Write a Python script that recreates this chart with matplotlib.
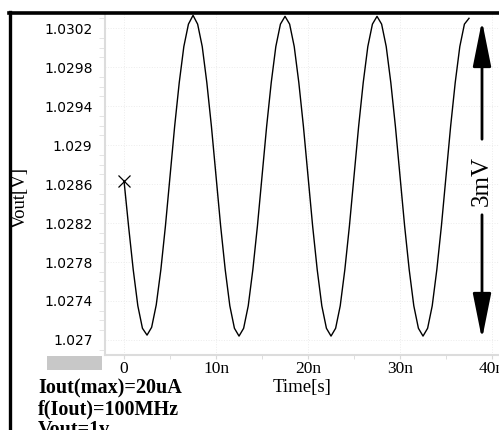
import matplotlib
matplotlib.use("Agg")
import matplotlib.pyplot as plt
from matplotlib.lines import Line2D
from matplotlib.patches import Rectangle
from matplotlib.ticker import FixedLocator, MultipleLocator

# transient output, time in ns
time_ns = [0.0, 0.5, 1.0, 1.5, 2.0, 2.5, 3.0, 3.5, 4.0, 4.5,
           5.0, 5.5, 6.0, 6.5, 7.0, 7.5, 8.0, 8.5, 9.0, 9.5,
           10.0, 10.5, 11.0, 11.5, 12.0, 12.5, 13.0, 13.5, 14.0, 14.5,
           15.0, 15.5, 16.0, 16.5, 17.0, 17.5, 18.0, 18.5, 19.0, 19.5,
           20.0, 20.5, 21.0, 21.5, 22.0, 22.5, 23.0, 23.5, 24.0, 24.5,
           25.0, 25.5, 26.0, 26.5, 27.0, 27.5, 28.0, 28.5, 29.0, 29.5,
           30.0, 30.5, 31.0, 31.5, 32.0, 32.5, 33.0, 33.5, 34.0, 34.5,
           35.0, 35.5, 36.0, 36.5, 37.0, 37.5]
vout = [1.02863, 1.02816, 1.02772, 1.02735, 1.02712, 1.02705, 1.02713, 1.02736, 1.02772, 1.02817,
        1.02868, 1.02919, 1.02964, 1.03001, 1.03024, 1.03033, 1.03024, 1.03001, 1.02964, 1.02919,
        1.02868, 1.02817, 1.02772, 1.02735, 1.02712, 1.02704, 1.02712, 1.02735, 1.02772, 1.02817,
        1.02868, 1.02919, 1.02964, 1.03001, 1.03024, 1.03032, 1.03024, 1.03001, 1.02964, 1.02919,
        1.02868, 1.02817, 1.02772, 1.02735, 1.02712, 1.02704, 1.02712, 1.02735, 1.02772, 1.02817,
        1.02868, 1.02919, 1.02964, 1.03001, 1.03024, 1.03032, 1.03024, 1.03001, 1.02964, 1.02919,
        1.02868, 1.02817, 1.02772, 1.02735, 1.02712, 1.02704, 1.02712, 1.02735, 1.02772, 1.02817,
        1.02868, 1.02919, 1.02964, 1.03001, 1.03024, 1.03030]

x_ticks = [0, 10, 20, 30, 40]
x_labels = ["0", "10n", "20n", "30n", "40n"]
y_ticks = [1.027, 1.0274, 1.0278, 1.0282, 1.0286, 1.029, 1.0294, 1.0298, 1.0302]
y_labels = ["1.027", "1.0274", "1.0278", "1.0282", "1.0286", "1.029", "1.0294", "1.0298", "1.0302"]
notes = ["Iout(max)=20uA", "f(Iout)=100MHz", "Vout=1v"]

W, H = 499, 430
serif = ["Liberation Serif", "DejaVu Serif"]

fig = plt.figure(figsize=(W / 100, H / 100), dpi=100)
ax = fig.add_axes([105 / W, 1 - 355 / H, (W - 105) / W, (355 - 14) / H])

ax.plot(time_ns, vout, color="black", lw=1.0)
ax.plot(time_ns[0], vout[0], marker="x", color="black", ms=8, mew=0.9)

ax.set_xlim(-2.07, 40.76)
ax.set_ylim(1.026846, 1.030344)

ax.xaxis.set_major_locator(FixedLocator(x_ticks))
ax.set_xticklabels(x_labels, fontfamily=serif, fontsize=12.5)
ax.xaxis.set_minor_locator(MultipleLocator(5))
ax.yaxis.set_major_locator(FixedLocator(y_ticks))
ax.set_yticklabels(y_labels, fontfamily="DejaVu Sans", fontsize=10)
ax.yaxis.set_minor_locator(MultipleLocator(0.0001))

ax.tick_params(axis="x", which="both", length=3, color="#d8d8d8", pad=1.5)
ax.tick_params(axis="y", which="major", length=0, pad=9)
ax.tick_params(axis="y", which="minor", length=4, color="#e0e0e0")
ax.grid(True, which="major", color="#ececec", lw=0.7, ls=":")

for s in ["top", "right"]:
    ax.spines[s].set_visible(False)
for s in ["left", "bottom"]:
    ax.spines[s].set_color("#dcdcdc")
    ax.spines[s].set_linewidth(1.5)

ax.set_xlabel("Time[s]", fontfamily=serif, fontsize=13.5, labelpad=1.5)
fig.text(20 / W, 1 - 197 / H, "Vout[V]", rotation=90, ha="center", va="center",
         fontfamily=serif, fontsize=13.5)

# outer frame of the screenshot
fig.add_artist(Line2D([10 / W, 10 / W], [0, 1 - 12 / H], color="black", lw=2.4))
fig.add_artist(Line2D([9 / W, 1], [1 - 13 / H, 1 - 13 / H], color="black", lw=2.6))

# grey box under the y labels
fig.add_artist(Rectangle((47 / W, 1 - 370 / H), 55 / W, 14 / H, color="#c8c8c8", lw=0))

for i, s in enumerate(notes):
    fig.text(38 / W, 1 - (393 + 21 * i) / H, s, ha="left", va="baseline",
             fontfamily=serif, fontsize=14.5, fontweight="bold")

# 3mV swing marker
arrow = dict(arrowstyle="-|>,head_length=1.4,head_width=0.28",
             color="black", lw=2, mutation_scale=20)
ax.annotate("", xy=(482, H - 18), xytext=(482, H - 142), xycoords="figure pixels",
            textcoords="figure pixels", arrowprops=arrow)
ax.annotate("", xy=(482, H - 342), xytext=(482, H - 212), xycoords="figure pixels",
            textcoords="figure pixels", arrowprops=arrow)
fig.text(482 / W, 1 - 181 / H, "3mV", rotation=90, ha="center", va="center",
         fontfamily=serif, fontsize=18)

fig.savefig("out.png", dpi=100)
